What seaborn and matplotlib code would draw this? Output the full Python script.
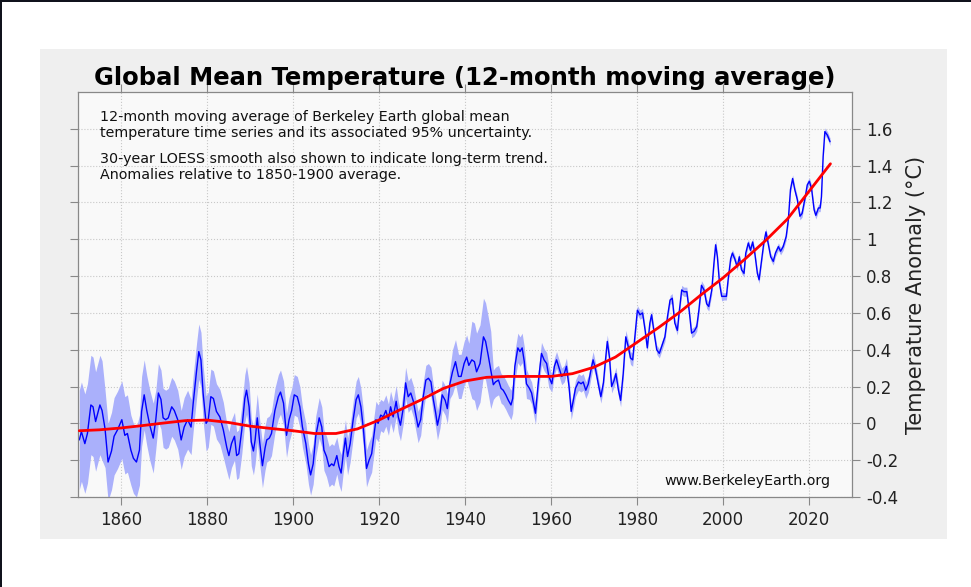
import matplotlib
matplotlib.use("Agg")
import matplotlib.pyplot as plt
import numpy as np
import seaborn as sns
from matplotlib.patches import Rectangle

# 12-month moving average (year, anomaly in degC)
years = [
    1850.3, 1850.8, 1851.6, 1852.2, 1853.0, 1853.5, 1854.1, 1854.6, 1855.1, 1855.6,
    1856.3, 1857.0, 1857.8, 1858.4, 1859.2, 1860.2, 1860.9, 1861.5, 1862.3, 1862.9,
    1863.6, 1864.3, 1864.8, 1865.4, 1866.0, 1866.7, 1867.5, 1868.1, 1868.7, 1869.3,
    1869.8, 1870.4, 1871.0, 1871.8, 1872.4, 1873.2, 1874.0, 1874.7, 1875.5, 1876.3,
    1876.8, 1877.6, 1878.1, 1878.6, 1879.1, 1879.8, 1880.3, 1880.9, 1881.5, 1882.2,
    1883.0, 1883.8, 1884.6, 1885.1, 1885.7, 1886.4, 1886.9, 1887.4, 1888.1, 1888.8,
    1889.2, 1889.8, 1890.3, 1890.8, 1891.2, 1891.7, 1892.3, 1892.9, 1893.5, 1893.9,
    1894.5, 1895.0, 1895.8, 1896.6, 1897.1, 1897.8, 1898.5, 1899.1, 1899.7, 1900.3,
    1901.0, 1901.6, 1902.2, 1903.0, 1903.6, 1904.1, 1904.7, 1905.3, 1906.1, 1906.7,
    1907.2, 1907.8, 1908.4, 1909.0, 1909.5, 1910.2, 1910.7, 1911.2, 1911.7, 1912.2,
    1912.7, 1913.3, 1914.0, 1914.7, 1915.2, 1915.8, 1916.4, 1917.1, 1917.7, 1918.3,
    1918.8, 1919.3, 1919.8, 1920.4, 1921.0, 1921.6, 1922.2, 1922.7, 1923.3, 1924.0,
    1924.5, 1925.0, 1925.7, 1926.2, 1926.8, 1927.4, 1928.0, 1928.5, 1929.1, 1929.7,
    1930.3, 1930.9, 1931.5, 1932.1, 1932.6, 1933.2, 1933.6, 1934.2, 1934.7, 1935.4,
    1935.9, 1936.5, 1937.1, 1937.8, 1938.5, 1939.1, 1939.8, 1940.4, 1940.9, 1941.6,
    1942.2, 1942.7, 1943.5, 1944.3, 1944.8, 1945.4, 1946.0, 1946.6, 1947.1, 1947.8,
    1948.4, 1948.9, 1949.5, 1950.1, 1950.7, 1951.1, 1951.6, 1952.3, 1952.8, 1953.3,
    1953.8, 1954.3, 1955.0, 1955.5, 1956.1, 1956.4, 1957.1, 1957.8, 1958.4, 1959.0,
    1959.5, 1960.2, 1960.8, 1961.3, 1961.9, 1962.5, 1963.1, 1963.6, 1964.2, 1964.7,
    1965.2, 1965.7, 1966.4, 1967.0, 1967.5, 1968.1, 1968.7, 1969.3, 1969.8, 1970.4,
    1971.0, 1971.6, 1972.2, 1972.6, 1973.1, 1973.6, 1974.1, 1974.7, 1975.1, 1975.7,
    1976.2, 1976.8, 1977.4, 1978.0, 1978.5, 1979.0, 1979.5, 1980.1, 1980.7, 1981.3,
    1981.9, 1982.4, 1983.0, 1983.4, 1984.0, 1984.6, 1985.2, 1985.7, 1986.5, 1987.1,
    1987.7, 1988.2, 1988.8, 1989.4, 1989.8, 1990.4, 1990.9, 1991.6, 1992.2, 1992.7,
    1993.3, 1993.9, 1994.4, 1995.0, 1995.6, 1996.2, 1996.7, 1997.4, 1997.9, 1998.3,
    1998.7, 1999.2, 1999.7, 2000.2, 2000.8, 2001.2, 2001.8, 2002.2, 2002.8, 2003.3,
    2003.8, 2004.3, 2004.9, 2005.3, 2005.9, 2006.4, 2006.9, 2007.4, 2008.0, 2008.4,
    2009.0, 2009.5, 2010.0, 2010.5, 2011.1, 2011.7, 2012.2, 2012.9, 2013.4, 2014.0,
    2014.7, 2015.2, 2015.7, 2016.2, 2016.7, 2017.3, 2017.9, 2018.4, 2019.1, 2019.6,
    2020.1, 2020.6, 2021.2, 2021.6, 2022.2, 2022.6, 2022.9, 2023.3, 2023.7, 2024.3,
    2024.9,
]
anomaly = [
    -0.09, -0.045, -0.11, -0.055, 0.10, 0.09, 0.01, 0.055, 0.10, 0.07,
    -0.03, -0.21, -0.15, -0.07, -0.035, 0.02, -0.065, -0.055, -0.145, -0.19,
    -0.21, -0.145, 0.065, 0.155, 0.07, -0.01, -0.08, 0.02, 0.165, 0.13,
    0.03, 0.02, 0.03, 0.09, 0.07, 0.02, -0.09, -0.02, 0.02, -0.02,
    0.11, 0.29, 0.39, 0.345, 0.165, 0.0, 0.02, 0.145, 0.135, 0.065,
    0.035, -0.035, -0.13, -0.175, -0.11, -0.07, -0.175, -0.165, -0.035, 0.135,
    0.18, 0.09, -0.10, -0.15, -0.09, 0.03, -0.11, -0.23, -0.135, -0.09,
    -0.08, -0.055, 0.07, 0.145, 0.17, 0.11, -0.065, 0.02, 0.07, 0.155,
    0.145, 0.09, -0.02, -0.11, -0.22, -0.28, -0.22, -0.07, 0.03, -0.02,
    -0.145, -0.18, -0.235, -0.22, -0.23, -0.175, -0.235, -0.27, -0.165, -0.08,
    -0.18, -0.11, 0.02, 0.13, 0.155, 0.09, -0.035, -0.245, -0.20, -0.165,
    -0.07, 0.02, 0.0, 0.045, 0.035, 0.07, 0.02, 0.09, 0.035, 0.12,
    0.035, -0.01, 0.09, 0.22, 0.145, 0.165, 0.12, 0.055, -0.02, 0.02,
    0.145, 0.235, 0.245, 0.225, 0.135, 0.055, -0.01, 0.055, 0.155, 0.125,
    0.08, 0.215, 0.28, 0.335, 0.255, 0.255, 0.325, 0.36, 0.315, 0.345,
    0.335, 0.28, 0.325, 0.47, 0.445, 0.37, 0.29, 0.21, 0.225, 0.235,
    0.19, 0.18, 0.155, 0.125, 0.10, 0.135, 0.31, 0.41, 0.39, 0.41,
    0.335, 0.215, 0.19, 0.165, 0.09, 0.055, 0.235, 0.38, 0.345, 0.325,
    0.255, 0.215, 0.31, 0.345, 0.30, 0.255, 0.27, 0.31, 0.20, 0.065,
    0.125, 0.19, 0.225, 0.215, 0.225, 0.18, 0.215, 0.29, 0.345, 0.29,
    0.215, 0.145, 0.22, 0.325, 0.445, 0.36, 0.20, 0.235, 0.27, 0.18,
    0.125, 0.27, 0.47, 0.415, 0.355, 0.345, 0.47, 0.615, 0.59, 0.60,
    0.505, 0.41, 0.545, 0.59, 0.49, 0.40, 0.38, 0.415, 0.47, 0.58,
    0.67, 0.68, 0.545, 0.505, 0.60, 0.725, 0.715, 0.715, 0.60, 0.49,
    0.50, 0.525, 0.615, 0.75, 0.725, 0.65, 0.635, 0.725, 0.87, 0.97,
    0.905, 0.76, 0.69, 0.69, 0.69, 0.78, 0.895, 0.925, 0.89, 0.85,
    0.905, 0.835, 0.815, 0.925, 0.98, 0.94, 0.985, 0.925, 0.815, 0.78,
    0.89, 0.98, 1.04, 0.98, 0.905, 0.88, 0.925, 0.96, 0.935, 0.96,
    1.015, 1.105, 1.27, 1.33, 1.27, 1.215, 1.125, 1.14, 1.225, 1.295,
    1.315, 1.275, 1.16, 1.13, 1.17, 1.17, 1.23, 1.45, 1.585, 1.565,
    1.53,
]

# 95% uncertainty half-width, read per period (period start years)
unc_start = [1850, 1856, 1862, 1868, 1876, 1884, 1892, 1900, 1910, 1920,
             1930, 1937, 1941, 1946.5, 1955, 1960, 1970, 1980, 2000]
unc_width = [0.27, 0.21, 0.19, 0.16, 0.15, 0.13, 0.12, 0.11, 0.10, 0.085,
             0.08, 0.12, 0.21, 0.08, 0.06, 0.045, 0.035, 0.025, 0.02]

# 30-year LOESS smooth
smooth_years = [1850.3, 1855, 1860, 1865, 1870, 1875, 1880, 1885, 1890, 1895,
                1900, 1905, 1910, 1915, 1920, 1925, 1930, 1935, 1940, 1945,
                1950, 1955, 1960, 1965, 1970, 1975, 1980, 1985, 1990, 1995,
                2000, 2005, 2010, 2015, 2020, 2025]
smooth_vals = [-0.04, -0.035, -0.025, -0.012, 0.002, 0.015, 0.018, 0.005, -0.015, -0.028,
               -0.04, -0.055, -0.055, -0.03, 0.018, 0.075, 0.13, 0.19, 0.23, 0.25,
               0.255, 0.255, 0.255, 0.27, 0.305, 0.36, 0.44, 0.52, 0.605, 0.70,
               0.79, 0.89, 0.995, 1.11, 1.26, 1.41]

x_ticks = [1860, 1880, 1900, 1920, 1940, 1960, 1980, 2000, 2020]
y_ticks = [-0.4, -0.2, 0, 0.2, 0.4, 0.6, 0.8, 1, 1.2, 1.4, 1.6]

sns.set_style("white")
plt.rcParams["font.family"] = ["DejaVu Sans"]
plt.rcParams["axes.unicode_minus"] = False

fig = plt.figure(figsize=(9.71, 5.87), dpi=100)
fig.patch.set_facecolor("white")
fig.add_artist(Rectangle((0.0412, 0.0818), 0.934, 0.8348, transform=fig.transFigure,
                         facecolor="#efefef", edgecolor="none", zorder=0))
# dark frame edges on left and top
fig.add_artist(Rectangle((0, 0), 0.0025, 1, transform=fig.transFigure,
                         facecolor="#10121c", edgecolor="none"))
fig.add_artist(Rectangle((0, 0.9965), 1, 0.0035, transform=fig.transFigure,
                         facecolor="#10121c", edgecolor="none"))

ax = fig.add_axes([0.0803, 0.1533, 0.7971, 0.69])
ax.set_facecolor("#f9f9f9")

yrs = np.array(years)
vals = np.array(anomaly)
idx = np.searchsorted(np.array(unc_start), yrs, side="right") - 1
half = np.array(unc_width)[idx]
ax.fill_between(yrs, vals - half, vals + half, color="#aab0fb", lw=0, zorder=1)

sns.lineplot(x=yrs, y=vals, color="#0000ff", lw=1.0, ax=ax, zorder=2)
sns.lineplot(x=smooth_years, y=smooth_vals, color="#ff0000", lw=2.0, ax=ax, zorder=3)

ax.set_xlim(1850, 2030)
ax.set_ylim(-0.4, 1.8)
ax.set_xticks(x_ticks)
ax.set_xticklabels([str(t) for t in x_ticks])
ax.set_yticks(y_ticks)
ax.set_yticklabels([f"{t:g}" for t in y_ticks])
ax.grid(True, linestyle=":", color="#c8c8c8", lw=0.8)
ax.set_axisbelow(True)

ax.tick_params(axis="both", direction="out", length=6, width=0.8, color="#888888",
               labelsize=12, labelcolor="#222222", pad=4)
ax.tick_params(axis="x", bottom=True, top=True, labelbottom=True, labeltop=False)
ax.tick_params(axis="y", left=True, right=True, labelleft=False, labelright=True)
for s in ax.spines.values():
    s.set_color("#888888")
    s.set_linewidth(0.9)

ax.yaxis.set_label_position("right")
ax.set_ylabel("Temperature Anomaly (°C)", fontsize=15, color="#222222", labelpad=6)
ax.set_xlabel("")
ax.set_title("Global Mean Temperature (12-month moving average)", fontsize=17.5,
             fontweight="bold", color="black", pad=5)

ax.text(0.0284, 0.955,
        "12-month moving average of Berkeley Earth global mean\n"
        "temperature time series and its associated 95% uncertainty.",
        transform=ax.transAxes, ha="left", va="top", fontsize=10.3, color="#111111")
ax.text(0.0284, 0.853,
        "30-year LOESS smooth also shown to indicate long-term trend.\n"
        "Anomalies relative to 1850-1900 average.",
        transform=ax.transAxes, ha="left", va="top", fontsize=10.3, color="#111111")
ax.text(0.9716, 0.0395, "www.BerkeleyEarth.org", transform=ax.transAxes,
        ha="right", va="center", fontsize=10.3, color="#111111")

fig.savefig("out.png", dpi=100)
